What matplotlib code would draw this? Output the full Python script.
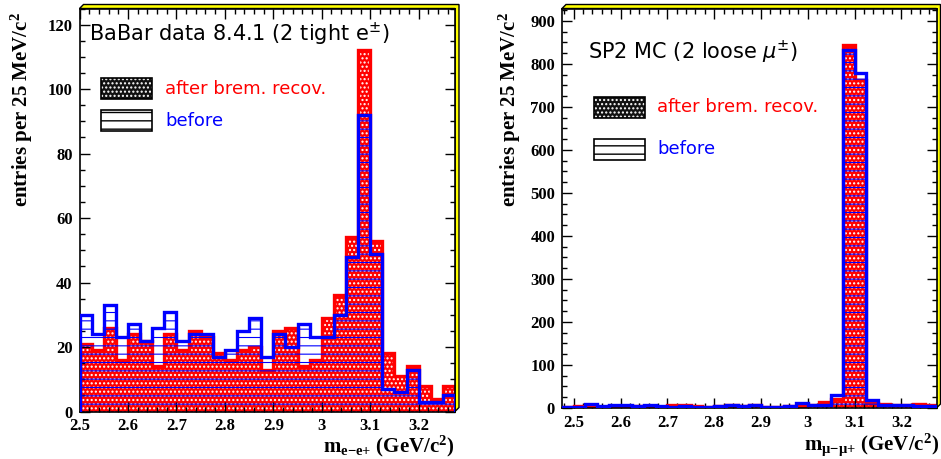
import numpy as np
import matplotlib
matplotlib.use('Agg')
import matplotlib.pyplot as plt
from matplotlib.patches import Rectangle, Polygon
from matplotlib.ticker import MultipleLocator, FuncFormatter

# ---------------- data ----------------
bin_width = 0.025
data_start = 2.5
mc_start = 2.475

# BaBar data, 2 tight electrons (31 bins from 2.5 GeV)
data_after = [21, 19, 26, 16, 24, 22, 14, 24, 19, 25, 23, 18, 16, 19, 20, 13,
              25, 26, 14, 16, 29, 36, 54, 112, 53, 18, 11, 14, 8, 4, 8]
data_before = [30, 24, 33, 23, 27, 22, 26, 31, 22, 24, 24, 17, 19, 25, 29, 17,
               24, 20, 27, 23, 23, 30, 48, 92, 49, 7, 6, 13, 3, 3, 5]

# SP2 MC, 2 loose muons (32 bins from 2.475 GeV)
mc_after = [3, 5, 4, 3, 4, 3, 5, 4, 3, 6, 7, 4, 3, 4, 6, 5,
            6, 3, 2, 5, 5, 6, 15, 20, 843, 763, 12, 10, 8, 8, 10, 6]
mc_before = [2, 3, 10, 4, 6, 6, 5, 6, 5, 3, 4, 3, 3, 5, 6, 4,
             6, 3, 2, 4, 12, 6, 6, 30, 832, 778, 18, 6, 7, 7, 5, 4]

left_title = 'BaBar data 8.4.1 (2 tight e$^{\\pm}$)'
right_title = 'SP2 MC (2 loose $\\mu^{\\pm}$)'
legend_after = 'after brem. recov.'
legend_before = 'before'
ylabel_text = 'entries per 25 MeV/c$^{2}$'
xlabel_left = 'm$_{\\mathrm{e{-}e{+}}}$ (GeV/c$^{2}$)'
xlabel_right = 'm$_{\\mathrm{\\mu{-}\\mu{+}}}$ (GeV/c$^{2}$)'

# ---------------- style ----------------
plt.rcParams['font.family'] = ['Liberation Serif', 'DejaVu Serif']
plt.rcParams['font.weight'] = 'normal'
plt.rcParams['mathtext.fontset'] = 'custom'
plt.rcParams['mathtext.rm'] = 'Liberation Serif:bold'
plt.rcParams['mathtext.bf'] = 'Liberation Serif:bold'
plt.rcParams['mathtext.it'] = 'Liberation Serif:italic:bold'
plt.rcParams['hatch.linewidth'] = 1.0

RED = '#ff0000'
BLUE = '#0000ff'
SANS = ['DejaVu Sans']

W, H = 941, 459
fig = plt.figure(figsize=(W / 100, H / 100), dpi=100)


def fx(x):
    return x / W


def fy(y):
    return 1 - y / H


def frame3d(x0, x1, ytop, ybot, b=4):
    pts = [(x0, ytop), (x0 + b, ytop - b), (x1 + b, ytop - b),
           (x1 + b, ybot - b), (x1, ybot), (x1, ytop)]
    poly = Polygon([(fx(a), fy(c)) for a, c in pts], closed=True,
                   facecolor='#ffff00', edgecolor='black', lw=1.0,
                   transform=fig.transFigure, zorder=0)
    fig.add_artist(poly)


def draw_hists(ax, start, after, before):
    edges = start + bin_width * np.arange(len(after) + 1)
    a = ax.stairs(after, edges, baseline=0, fill=True, facecolor=RED,
                  edgecolor='white', hatch='....', linewidth=0, zorder=1)
    ax.stairs(after, edges, baseline=0, fill=False, color=RED, lw=2.4, zorder=2)
    b = ax.stairs(before, edges, baseline=0, fill=True, facecolor='none',
                  edgecolor=BLUE, hatch='--', linewidth=0, zorder=3)
    ax.stairs(before, edges, baseline=0, fill=False, color=BLUE, lw=2.4, zorder=4)
    for p, lw in ((a, 1.0), (b, 0.8)):
        if hasattr(p, 'set_hatch_linewidth'):
            p.set_hatch_linewidth(lw)


def style_axes(ax, xlim, ylim, ymajor, yminor):
    ax.set_xlim(*xlim)
    ax.set_ylim(*ylim)
    ax.xaxis.set_major_locator(MultipleLocator(0.1))
    ax.xaxis.set_minor_locator(MultipleLocator(0.02))
    ax.yaxis.set_major_locator(MultipleLocator(ymajor))
    ax.yaxis.set_minor_locator(MultipleLocator(yminor))
    ax.xaxis.set_major_formatter(FuncFormatter(lambda v, p: f'{v:g}'))
    ax.yaxis.set_major_formatter(FuncFormatter(lambda v, p: f'{v:g}'))
    ax.tick_params(which='both', direction='in', top=True, right=True,
                   width=1.0, labelsize=12)
    ax.tick_params(which='major', length=7)
    ax.tick_params(which='minor', length=3.5)
    ax.tick_params(axis='x', pad=5)
    ax.tick_params(axis='y', pad=5)
    for s in ax.spines.values():
        s.set_linewidth(1.2)
    for lbl in ax.get_xticklabels() + ax.get_yticklabels():
        lbl.set_fontweight('bold')


def legend(x0, y1, y2, tx, after_text, before_text, fs):
    bw, bh = 51, 21
    r1 = Rectangle((fx(x0), fy(y1 + bh)), bw / W, bh / H, facecolor='#111111',
                   edgecolor='white', hatch='....', lw=0,
                   transform=fig.transFigure)
    r1o = Rectangle((fx(x0), fy(y1 + bh)), bw / W, bh / H, facecolor='none',
                    edgecolor='black', lw=1.2, transform=fig.transFigure)
    r2 = Rectangle((fx(x0), fy(y2 + bh)), bw / W, bh / H, facecolor='white',
                   edgecolor='black', hatch='--', lw=1.2,
                   transform=fig.transFigure)
    for r in (r1, r1o, r2):
        fig.add_artist(r)
    fig.text(fx(tx), fy(y1 + bh / 2), after_text, color=RED, fontsize=fs,
             family=SANS, va='center', ha='left')
    fig.text(fx(tx), fy(y2 + bh / 2), before_text, color=BLUE, fontsize=fs,
             family=SANS, va='center', ha='left')


# ---------------- left panel ----------------
L = dict(x0=79.5, x1=455, top=8.5, bot=411.5)
frame3d(L['x0'], L['x1'], L['top'], L['bot'])
axL = fig.add_axes([fx(L['x0']), fy(L['bot']), (L['x1'] - L['x0']) / W,
                    (L['bot'] - L['top']) / H])
draw_hists(axL, data_start, data_after, data_before)
style_axes(axL, (2.5, 3.275), (0, 125), 20, 5)

fig.text(fx(89), fy(41), left_title, fontsize=15, family=SANS,
         math_fontfamily='dejavusans', va='baseline')
legend(101, 78, 110, 165, legend_after, legend_before, 13)

fig.text(fx(22), fy(12), ylabel_text, rotation=90, ha='center', va='top',
         fontsize=15, weight='bold', math_fontfamily='custom')
fig.text(fx(454), fy(452), xlabel_left, ha='right', va='baseline',
         fontsize=15, weight='bold', math_fontfamily='custom')

# ---------------- right panel ----------------
R = dict(x0=562, x1=936.5, top=8.5, bot=408)
frame3d(R['x0'], R['x1'], R['top'], R['bot'])
axR = fig.add_axes([fx(R['x0']), fy(R['bot']), (R['x1'] - R['x0']) / W,
                    (R['bot'] - R['top']) / H])
draw_hists(axR, mc_start, mc_after, mc_before)
style_axes(axR, (2.475, 3.275), (0, 929), 100, 25)

fig.text(fx(588), fy(59), right_title, fontsize=15, family=SANS,
         math_fontfamily='dejavusans', va='baseline')
legend(594, 97, 139, 657, legend_after, legend_before, 13)

fig.text(fx(510), fy(12), ylabel_text, rotation=90, ha='center', va='top',
         fontsize=15, weight='bold', math_fontfamily='custom')
fig.text(fx(939), fy(450), xlabel_right, ha='right', va='baseline',
         fontsize=15, weight='bold', math_fontfamily='custom')

fig.savefig('out.png', dpi=100)
